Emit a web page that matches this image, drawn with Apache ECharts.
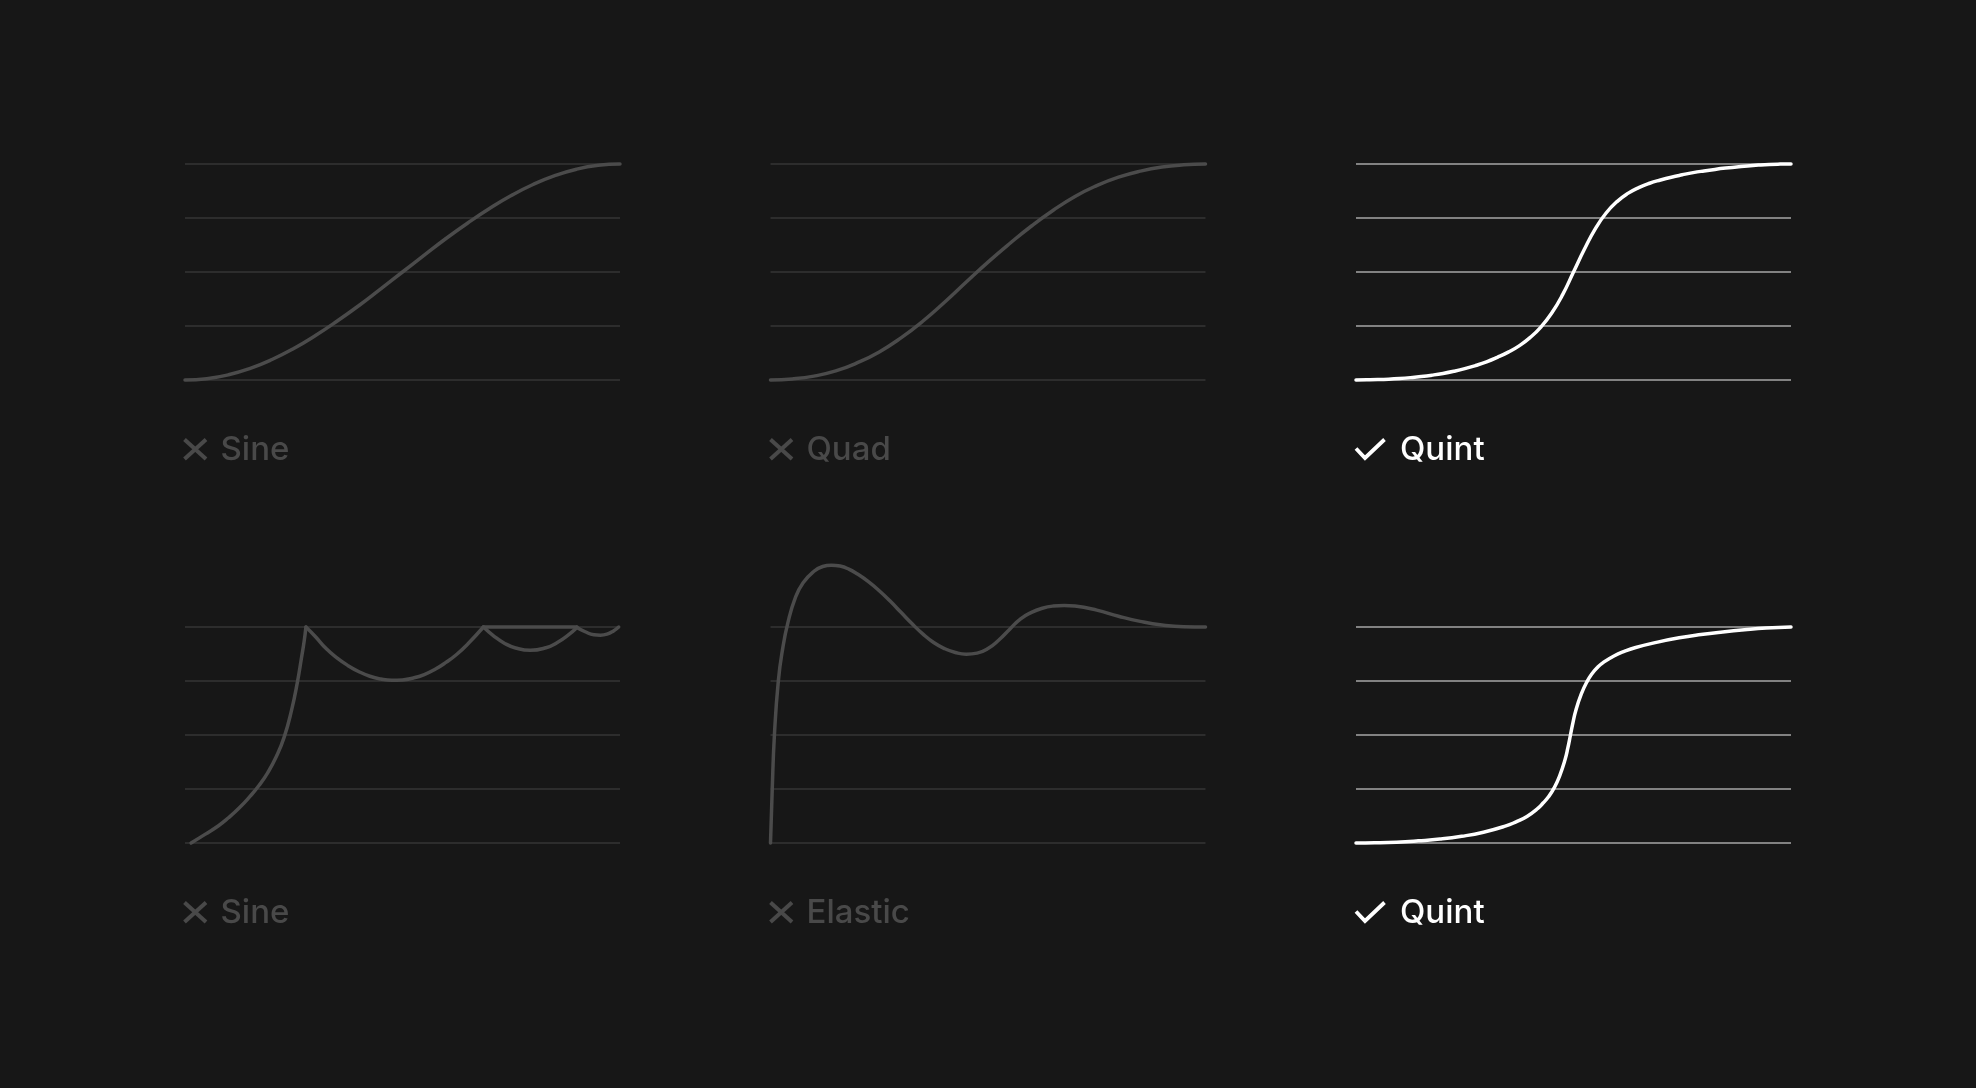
<!DOCTYPE html>
<html><head><meta charset="utf-8">
<script src="https://cdn.jsdelivr.net/npm/echarts@6/dist/echarts.min.js"></script>
<style>html,body{margin:0;padding:0;background:#171717;}#c{width:1976px;height:1088px;}</style>
</head><body><div id="c"></div>
<script>
// ---- data (t = progress 0..1, v = value 0..1) ----
const panelNames = ['Sine', 'Quad', 'Quint', 'Sine', 'Elastic', 'Quint'];
const panelChosen = [false, false, true, false, false, true];
const yTicks = [0, 0.25, 0.5, 0.75, 1];

const sineTop = [[0,0],[0.05,0.006],[0.1,0.024],[0.15,0.054],[0.2,0.095],[0.25,0.146],[0.3,0.206],[0.35,0.273],[0.4,0.345],[0.45,0.422],[0.5,0.5],[0.55,0.578],[0.6,0.655],[0.65,0.727],[0.7,0.794],[0.75,0.854],[0.8,0.905],[0.85,0.946],[0.9,0.976],[0.95,0.994],[1,1]];
const quadTop = [[0,0],[0.05,0.005],[0.1,0.018],[0.15,0.042],[0.2,0.08],[0.25,0.13],[0.3,0.195],[0.35,0.272],[0.4,0.36],[0.45,0.454],[0.5,0.546],[0.55,0.632],[0.6,0.713],[0.65,0.786],[0.7,0.85],[0.75,0.9],[0.8,0.939],[0.85,0.967],[0.9,0.986],[0.95,0.996],[1,1]];
const quintTop = [[0,0],[0.025,0.0008],[0.05,0.002],[0.075,0.004],[0.1,0.007],[0.125,0.011],[0.15,0.016],[0.175,0.0225],[0.2,0.0305],[0.225,0.0405],[0.25,0.0525],[0.275,0.067],[0.3,0.084],[0.325,0.105],[0.35,0.129],[0.375,0.158],[0.4,0.196],[0.425,0.245],[0.45,0.31],[0.475,0.395],[0.5,0.5],[0.525,0.605],[0.55,0.7],[0.575,0.773],[0.6,0.826],[0.625,0.864],[0.65,0.891],[0.675,0.911],[0.7,0.926],[0.725,0.939],[0.75,0.95],[0.775,0.96],[0.8,0.968],[0.825,0.975],[0.85,0.981],[0.875,0.986],[0.9,0.991],[0.925,0.995],[0.95,0.998],[0.975,0.9995],[1,1]];
const bounceRise = [[0.014,0],[0.046,0.04],[0.077,0.08],[0.1,0.117],[0.125,0.163],[0.15,0.217],[0.17,0.266],[0.19,0.325],[0.21,0.4],[0.228,0.49],[0.245,0.615],[0.258,0.74],[0.268,0.86],[0.274,0.935],[0.278,1]];
const bounceDip1 = [[0.278,1],[0.3,0.955],[0.325,0.899],[0.35,0.856],[0.375,0.821],[0.4,0.793],[0.425,0.772],[0.45,0.759],[0.475,0.753],[0.5,0.755],[0.525,0.764],[0.55,0.78],[0.575,0.804],[0.6,0.836],[0.625,0.874],[0.65,0.921],[0.686,1]];
const bounceDip2 = [[0.686,1],[0.71,0.958],[0.735,0.924],[0.76,0.903],[0.794,0.892],[0.83,0.904],[0.855,0.927],[0.88,0.961],[0.901,0.998]];
const bounceDip3 = [[0.901,0.998],[0.92,0.978],[0.94,0.964],[0.955,0.962],[0.97,0.967],[0.985,0.982],[0.997,1]];
const bounceFlat = [[0.686,1],[0.901,1]];
const elasticBottom = [[0,0],[0.004,0.25],[0.009,0.5],[0.018,0.75],[0.028,0.9],[0.04,1.02],[0.057,1.135],[0.075,1.205],[0.1,1.258],[0.12,1.28],[0.14,1.286],[0.16,1.282],[0.18,1.268],[0.2,1.245],[0.225,1.21],[0.25,1.168],[0.275,1.12],[0.3,1.068],[0.325,1.016],[0.35,0.968],[0.375,0.928],[0.4,0.9],[0.425,0.882],[0.45,0.874],[0.475,0.879],[0.5,0.9],[0.525,0.94],[0.55,0.99],[0.575,1.038],[0.6,1.068],[0.625,1.087],[0.65,1.097],[0.675,1.1],[0.7,1.097],[0.75,1.078],[0.8,1.05],[0.85,1.026],[0.9,1.009],[0.95,1.001],[1,1]];
const quintBottom = [[0,0],[0.043,0.001],[0.093,0.004],[0.143,0.01],[0.193,0.018],[0.243,0.031],[0.293,0.05],[0.343,0.078],[0.368,0.098],[0.393,0.123],[0.418,0.16],[0.43,0.185],[0.443,0.215],[0.4555,0.255],[0.468,0.31],[0.4805,0.385],[0.487,0.44],[0.493,0.5],[0.499,0.56],[0.5055,0.615],[0.518,0.69],[0.5305,0.745],[0.543,0.785],[0.555,0.813],[0.568,0.835],[0.593,0.866],[0.618,0.888],[0.643,0.905],[0.693,0.93],[0.743,0.95],[0.793,0.965],[0.843,0.977],[0.893,0.987],[0.943,0.995],[1,1]];

const panelCurves = [[sineTop],[quadTop],[quintTop],[bounceRise,bounceDip1,bounceDip2,bounceDip3,bounceFlat],[elasticBottom],[quintBottom]];

// ---- layout / style ----
const colLeft = [185, 770.5, 1356];
const rowTop = [164, 627];
const W = 435, H = 216;
const dim = { grid: '#2d2d2d', curve: '#4b4b4b', text: '#494949' };
const act = { grid: '#828282', curve: '#ffffff', text: '#ffffff' };

const grids = [], xAxes = [], yAxes = [], series = [], graphics = [];
panelNames.forEach((name, i) => {
  const col = i % 3, row = Math.floor(i / 3);
  const c = panelChosen[i] ? act : dim;
  grids.push({ left: colLeft[col], top: rowTop[row], width: W, height: H, containLabel: false });
  xAxes.push({ type: 'value', gridIndex: i, min: 0, max: 1, show: false, splitLine: { show: false } });
  yAxes.push({
    type: 'value', gridIndex: i, min: yTicks[0], max: yTicks[yTicks.length - 1], interval: yTicks[1] - yTicks[0],
    axisLine: { show: false }, axisTick: { show: false }, axisLabel: { show: false },
    splitLine: { show: true, showMinLine: true, showMaxLine: true, lineStyle: { color: c.grid, width: 2 } }
  });
  panelCurves[i].forEach(seg => {
    series.push({
      type: 'line', xAxisIndex: i, yAxisIndex: i, data: seg, smooth: seg.length > 2 ? 0.5 : false,
      showSymbol: false, clip: false, silent: true, animation: false,
      lineStyle: { color: c.curve, width: 3.5, cap: 'round', join: 'round' }, z: 5
    });
  });
  const dy = row * 463;
  const lx = panelChosen[i] ? 1356 : (col === 0 ? 184.5 : 770.5);
  if (panelChosen[i]) {
    graphics.push({ type: 'polyline', shape: { points: [[lx, 448.5 + dy], [lx + 9, 458 + dy], [lx + 28.5, 439.5 + dy]] },
      style: { stroke: c.text, lineWidth: 3.8, fill: null, lineJoin: 'miter' } });
  } else {
    graphics.push({ type: 'line', shape: { x1: lx, y1: 439.5 + dy, x2: lx + 21.5, y2: 459 + dy }, style: { stroke: c.text, lineWidth: 4 } });
    graphics.push({ type: 'line', shape: { x1: lx + 21.5, y1: 439.5 + dy, x2: lx, y2: 459 + dy }, style: { stroke: c.text, lineWidth: 4 } });
  }
  const tx = panelChosen[i] ? 1400 : (col === 0 ? 220.5 : 806.5);
  graphics.push({ type: 'text', style: { text: name, x: tx, y: 450.5 + dy, fill: c.text, font: '500 33px Inter', textVerticalAlign: 'middle', verticalAlign: 'middle' } });
});

const chart = echarts.init(document.getElementById('c'), null, { renderer: 'canvas' });
chart.setOption({
  backgroundColor: '#171717',
  animation: false,
  grid: grids, xAxis: xAxes, yAxis: yAxes, series: series,
  graphic: { elements: graphics }
});
</script></body></html>
